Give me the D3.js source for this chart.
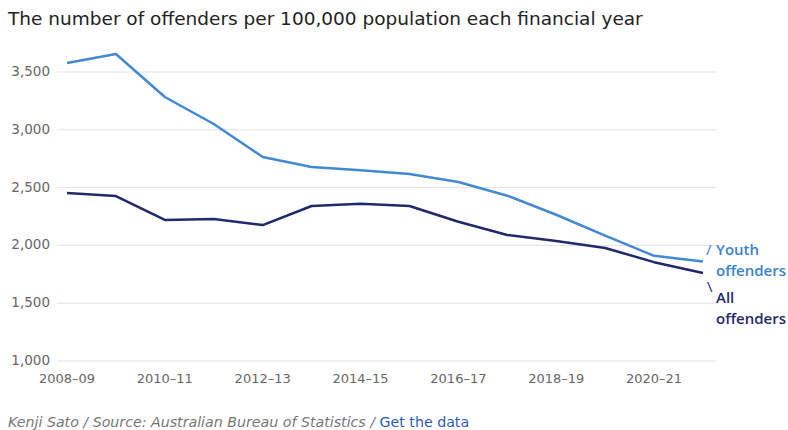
<!DOCTYPE html>
<html>
<head>
<meta charset="utf-8">
<script src="https://cdn.jsdelivr.net/npm/d3@7"></script>
<style>
  body { margin: 0; background: #fff; }
  svg { font-family: "DejaVu Sans", sans-serif; }
</style>
</head>
<body>
<div id="chart"></div>
<script>
var years = ["2008–09", "2009–10", "2010–11", "2011–12", "2012–13", "2013–14", "2014–15",
             "2015–16", "2016–17", "2017–18", "2018–19", "2019–20", "2020–21", "2021–22"];
var youth = [3578, 3656, 3284, 3050, 2765, 2678, 2650, 2618, 2548, 2430, 2265, 2085, 1910, 1860];
var allOff = [2453, 2427, 2220, 2228, 2176, 2341, 2360, 2341, 2205, 2090, 2038, 1978, 1855, 1761];
var yTicks = [1000, 1500, 2000, 2500, 3000, 3500];
var xTickLabels = ["2008–09", "2010–11", "2012–13", "2014–15", "2016–17", "2018–19", "2020–21"];

var width = 788, height = 430;
var svg = d3.select("#chart").append("svg")
    .attr("width", width)
    .attr("height", height);

var x = d3.scalePoint().domain(years).range([67, 703]);
var y = d3.scaleLinear().domain([1000, 3500]).range([361, 72]);

// title
svg.append("text")
    .attr("x", 8).attr("y", 25)
    .attr("fill", "#222")
    .attr("font-size", 18.5)
    .text("The number of offenders per 100,000 population each financial year");

// grid
svg.append("g")
    .selectAll("line")
    .data(yTicks)
    .enter().append("line")
    .attr("x1", 57).attr("x2", 716)
    .attr("y1", function(d) { return y(d); })
    .attr("y2", function(d) { return y(d); })
    .attr("stroke", "#e3e3e6")
    .attr("stroke-width", 1);

svg.append("g")
    .selectAll("text")
    .data(yTicks)
    .enter().append("text")
    .attr("x", 50)
    .attr("y", function(d) { return y(d) + 4; })
    .attr("text-anchor", "end")
    .attr("fill", "#666")
    .attr("font-size", 13.5)
    .text(function(d) { return d3.format(",")(d); });

svg.append("g")
    .selectAll("text")
    .data(xTickLabels)
    .enter().append("text")
    .attr("x", function(d) { return x(d); })
    .attr("y", 383)
    .attr("text-anchor", "middle")
    .attr("fill", "#666")
    .attr("font-size", 13)
    .text(function(d) { return d; });

var line = d3.line()
    .x(function(d, i) { return x(years[i]); })
    .y(function(d) { return y(d); });

svg.append("path")
    .datum(youth)
    .attr("d", line)
    .attr("fill", "none")
    .attr("stroke", "#4289d1")
    .attr("stroke-width", 2.5)
    .attr("stroke-linejoin", "round");

svg.append("path")
    .datum(allOff)
    .attr("d", line)
    .attr("fill", "none")
    .attr("stroke", "#1e2a6d")
    .attr("stroke-width", 2.5)
    .attr("stroke-linejoin", "round");

// line labels
var lbl = svg.append("g").attr("font-size", 15).attr("font-weight", 600)
    .attr("font-family", "'Open Sans', sans-serif");
lbl.append("text").attr("x", 706).attr("y", 255).attr("fill", "#3a82cc").attr("font-weight", 400).text("/");
lbl.append("text").attr("x", 716).attr("y", 255).attr("fill", "#3a82cc").text("Youth");
lbl.append("text").attr("x", 716).attr("y", 276).attr("fill", "#3a82cc").text("offenders");
lbl.append("text").attr("x", 707).attr("y", 292).attr("fill", "#1e2a6d").attr("font-weight", 400).text("\\");
lbl.append("text").attr("x", 716).attr("y", 303).attr("fill", "#1e2a6d").text("All");
lbl.append("text").attr("x", 716).attr("y", 324).attr("fill", "#1e2a6d").text("offenders");

// footer
var foot = svg.append("text")
    .attr("x", 8).attr("y", 427)
    .attr("font-size", 14.2)
    .attr("fill", "#777");
foot.append("tspan").attr("font-style", "italic")
    .text("Kenji Sato / Source: Australian Bureau of Statistics / ");
foot.append("tspan").attr("fill", "#2c5bc4").text("Get the data");
</script>
</body>
</html>
